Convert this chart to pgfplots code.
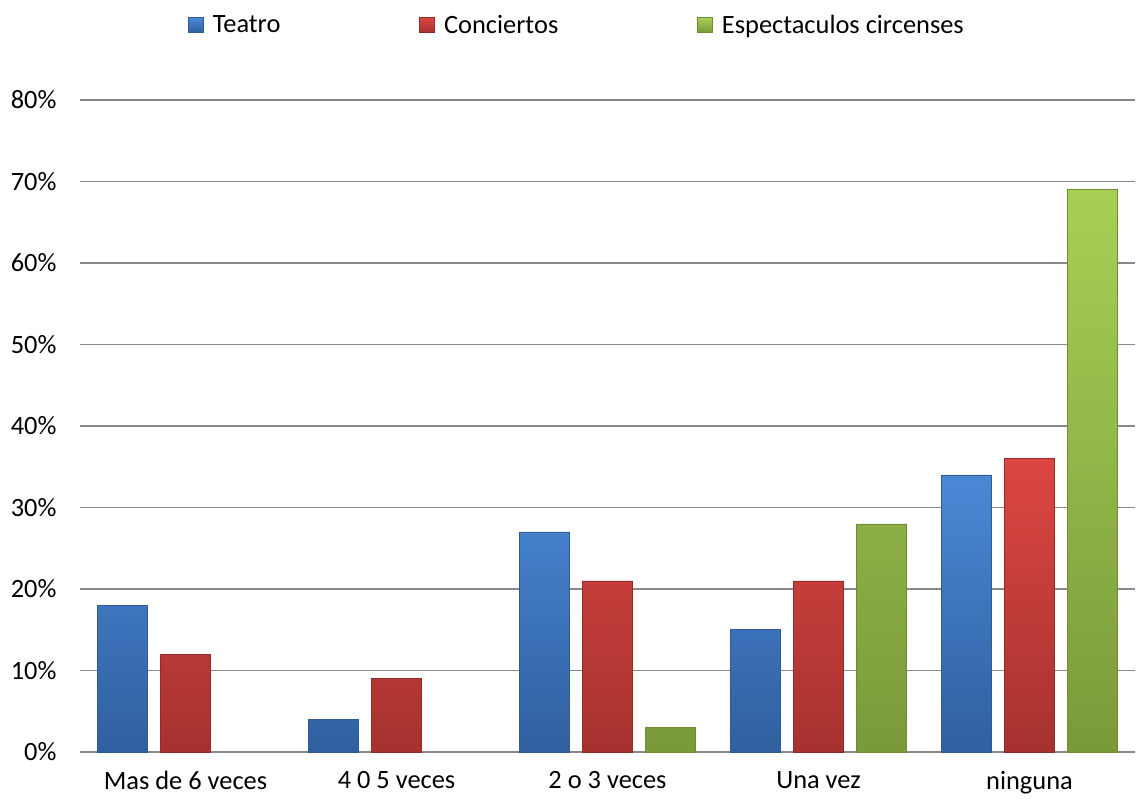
\documentclass[border=0pt]{standalone}
\usepackage{pgfplots}
\pgfplotsset{compat=1.18}
\usepackage{fontspec}
\setmainfont{Carlito}

\definecolor{blueTop}{HTML}{4A88D6}
\definecolor{blueBot}{HTML}{30609F}
\definecolor{blueEdge}{HTML}{2F5A92}
\definecolor{redTop}{HTML}{DC4642}
\definecolor{redBot}{HTML}{A5322F}
\definecolor{redEdge}{HTML}{922C29}
\definecolor{greenTop}{HTML}{A8CF55}
\definecolor{greenBot}{HTML}{7A9A3A}
\definecolor{greenEdge}{HTML}{6E8B33}
\definecolor{gridgray}{HTML}{888888}

\begin{document}
\begin{tikzpicture}
\begin{axis}[
  scale only axis,
  width=1055bp, height=652bp,
  font=\fontsize{26.5}{31}\selectfont,
  ybar=13bp, bar width=50bp,
  xmin=-0.5, xmax=4.5,
  ymin=0, ymax=80,
  xtick={0,1,2,3,4},
  xticklabels={Mas de 6 veces, 4 0 5 veces, 2 o 3 veces, Una vez, ninguna},
  ytick={0,10,...,80},
  yticklabel={\pgfmathprintnumber[assume math mode=true]{\tick}\%},
  yticklabel style={xshift=-20bp},
  xticklabel style={yshift=-16bp},
  major tick length=0pt,
  axis line style={draw=none},
  ymajorgrids,
  grid style={draw=gridgray, line width=1.8bp},
  legend columns=3,
  legend style={
    at={(rel axis cs:0.1024,1.115)}, anchor=west,
    draw=none, inner sep=0pt,
    font=\fontsize{26.5}{31}\selectfont,
    /tikz/every odd column/.append style={column sep=7bp},
    /tikz/every even column/.append style={column sep=137bp},
    nodes={inner sep=2bp},
  },
  legend image code/.code={\path[#1] (0bp,-7.5bp) rectangle (15bp,7.5bp);},
]
\addplot[draw=blueEdge, line width=0.6bp, top color=blueTop, bottom color=blueBot]
  coordinates {(0,18) (1,4) (2,27) (3,15) (4,34)};
\addplot[draw=redEdge, line width=0.6bp, top color=redTop, bottom color=redBot]
  coordinates {(0,12) (1,9) (2,21) (3,21) (4,36)};
% the first two categories have no circus attendance (0%), so no bar is drawn there
\addplot[draw=greenEdge, line width=0.6bp, top color=greenTop, bottom color=greenBot]
  coordinates {(2,3) (3,28) (4,69)};
\legend{Teatro, Conciertos, Espectaculos circenses}
\coordinate (bl) at ([xshift=-80bp,yshift=-46bp]rel axis cs:0,0);
\coordinate (tr) at ([xshift=7bp,yshift=100bp]rel axis cs:1,1);
\end{axis}
\pgfresetboundingbox
\path[use as bounding box] (bl) rectangle (tr);
\end{tikzpicture}
\end{document}
